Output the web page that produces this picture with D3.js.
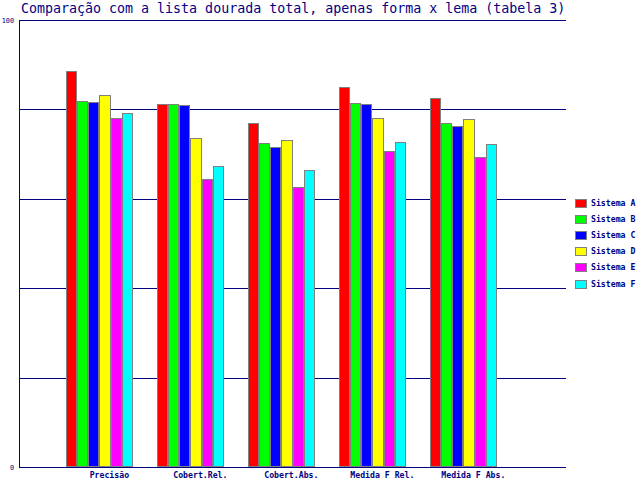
<!DOCTYPE html>
<html><head><meta charset="utf-8">
<script src="https://cdn.jsdelivr.net/npm/d3@7"></script>
<style>body{margin:0;background:#fff}svg{display:block}</style>
</head><body>
<script>
const title = "Comparação com a lista dourada total, apenas forma x lema (tabela 3)";
const categories = ["Precisão", "Cobert.Rel.", "Cobert.Abs.", "Medida F Rel.", "Medida F Abs."];
const series = ["Sistema A", "Sistema B", "Sistema C", "Sistema D", "Sistema E", "Sistema F"];
const colors = ["#ff0000", "#00ff00", "#0000ff", "#ffff00", "#ff00ff", "#00ffff"];
const sistemaA = [88.7, 81.1, 76.9, 84.9, 82.5];
const sistemaB = [81.8, 81.1, 72.4, 81.4, 77.0];
const sistemaC = [81.6, 80.9, 71.5, 81.1, 76.2];
const sistemaD = [83.2, 73.5, 73.1, 78.0, 77.8];
const sistemaE = [78.0, 64.4, 62.6, 70.7, 69.3];
const sistemaF = [79.2, 67.3, 66.4, 72.6, 72.2];
const values = [sistemaA, sistemaB, sistemaC, sistemaD, sistemaE, sistemaF];
const yTicks = [0, 20, 40, 60, 80, 100];
const yLabels = [0, 100];

const W = 640, H = 480;
const navy = "#000080";
const svg = d3.select("body").append("svg").attr("width", W).attr("height", H);

const y = d3.scaleLinear().domain([0, 100]).range([467, 20]);
const x0 = d3.scaleBand().domain(categories).range([65.7, 497]).paddingInner(0.26).paddingOuter(0);
const x1 = d3.scaleBand().domain(series).range([0, x0.bandwidth()]);
const plotLeft = 20, plotRight = 566;

// gridlines
svg.append("g").selectAll("line").data(yTicks).join("line")
  .attr("x1", plotLeft).attr("x2", plotRight)
  .attr("y1", d => Math.round(y(d)) + 0.5).attr("y2", d => Math.round(y(d)) + 0.5)
  .attr("stroke", navy).attr("stroke-width", 1);
// left axis
svg.append("line").attr("x1", plotLeft - 0.5).attr("x2", plotLeft - 0.5)
  .attr("y1", y(100)).attr("y2", y(0) + 1).attr("stroke", navy);

// bars
const g = svg.append("g");
categories.forEach((c, ci) => {
  series.forEach((s, si) => {
    const v = values[si][ci];
    const xa = Math.round(x0(c) + x1(s));
    const xb = Math.round(x0(c) + x1(s) + x1.bandwidth());
    g.append("rect")
      .attr("x", xa + 0.5)
      .attr("y", Math.round(y(v)) + 0.5)
      .attr("width", xb - xa - 1)
      .attr("height", Math.round(y(0)) - Math.round(y(v)) - 1)
      .attr("fill", colors[si])
      .attr("stroke", "#808080").attr("stroke-width", 1);
  });
});
// bottom axis line on top
svg.append("line").attr("x1", plotLeft).attr("x2", plotRight)
  .attr("y1", Math.round(y(0)) + 0.5).attr("y2", Math.round(y(0)) + 0.5).attr("stroke", navy);

// y labels
svg.append("g").selectAll("text").data(yLabels).join("text")
  .attr("x", 14).attr("y", d => y(d) + 2.5)
  .attr("text-anchor", "end")
  .attr("font-family", "DejaVu Sans Mono").attr("font-size", "6.8px")
  .attr("fill", navy).text(d => d);

// category labels
svg.append("g").selectAll("text").data(categories).join("text")
  .attr("x", d => x0(d) + x0.bandwidth() / 2 + 10)
  .attr("y", 477.5)
  .attr("text-anchor", "middle")
  .attr("font-family", "DejaVu Sans Mono").attr("font-size", "8.2px").attr("font-weight", "bold")
  .attr("fill", navy).text(d => d);

// title
svg.append("text").attr("x", 21).attr("y", 12.5)
  .attr("font-family", "DejaVu Sans Mono").attr("font-size", "13.3px")
  .attr("fill", navy).text(title);

// legend
const leg = svg.append("g");
series.forEach((s, i) => {
  const cy = 203 + 16.1 * i;
  leg.append("rect").attr("x", 575.5).attr("y", Math.round(cy - 4) + 0.5)
    .attr("width", 11).attr("height", 8)
    .attr("fill", colors[i]).attr("stroke", "#808080");
  leg.append("text").attr("x", 591).attr("y", cy + 3)
    .attr("font-family", "DejaVu Sans Mono").attr("font-size", "8.2px").attr("font-weight", "bold")
    .attr("fill", navy).text(s);
});
</script>
</body></html>
